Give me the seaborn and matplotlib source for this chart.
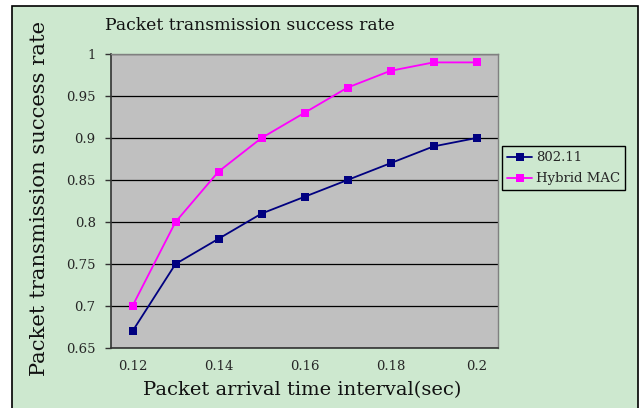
import matplotlib
matplotlib.use("Agg")
import matplotlib.pyplot as plt
import pandas as pd
import seaborn as sns
from matplotlib.patches import Rectangle
from matplotlib.ticker import FixedLocator, NullFormatter

# data
intervals = [0.12, 0.13, 0.14, 0.15, 0.16, 0.17, 0.18, 0.19, 0.20]
rate_80211 = [0.67, 0.75, 0.78, 0.81, 0.83, 0.85, 0.87, 0.89, 0.90]
rate_hybrid = [0.70, 0.80, 0.86, 0.90, 0.93, 0.96, 0.98, 0.99, 0.99]
series_names = ["802.11", "Hybrid MAC"]
x_labels = ["0.12", "0.14", "0.16", "0.18", "0.2"]

df = pd.DataFrame({
    "interval": intervals * 2,
    "rate": rate_80211 + rate_hybrid,
    "series": [series_names[0]] * len(intervals) + [series_names[1]] * len(intervals),
})

bg_green = "#cde8cf"
plot_gray = "#c0c0c0"
palette = {"802.11": "#000080", "Hybrid MAC": "#ff00ff"}
font = ["DejaVu Serif"]

sns.set_style("white")
plt.rcParams["font.family"] = font

fig = plt.figure(figsize=(6.41, 4.08), dpi=100)
fig.patch.set_facecolor("white")
W, H = 641, 408
fig.patches.append(Rectangle((12 / W, -0.02), (638 - 12) / W, (402 - 0) / H + 0.02,
                             transform=fig.transFigure, facecolor=bg_green,
                             edgecolor="black", linewidth=1.2, zorder=-10))

ax = fig.add_axes([111 / W, 60 / H, (498 - 111) / W, (348 - 54) / H])
ax.set_facecolor(plot_gray)

sns.lineplot(data=df, x="interval", y="rate", hue="series", palette=palette,
             marker="s", markersize=5.5, markeredgewidth=0, linewidth=1.3,
             ax=ax, legend=True)

ax.set_xlim(0.115, 0.205)
ax.set_ylim(0.65, 1.0)
ax.set_yticks([0.65, 0.7, 0.75, 0.8, 0.85, 0.9, 0.95, 1.0])
ax.set_yticklabels(["0.65", "0.7", "0.75", "0.8", "0.85", "0.9", "0.95", "1"])
ax.yaxis.grid(True, color="black", linewidth=0.9)
ax.set_axisbelow(True)

ax.xaxis.set_major_locator(FixedLocator([0.12, 0.14, 0.16, 0.18, 0.20]))
ax.set_xticklabels(x_labels)
ax.xaxis.set_minor_locator(FixedLocator([0.125 + 0.01 * i for i in range(8)]))
ax.xaxis.set_minor_formatter(NullFormatter())
ax.tick_params(axis="x", which="major", length=0, pad=9, labelsize=9.5)
ax.tick_params(axis="x", which="minor", direction="in", length=4, width=1, color="#333333")
ax.tick_params(axis="y", which="major", direction="out", length=4, width=1,
               color="#333333", labelsize=9.5, left=True, pad=7)

for side in ["left", "bottom"]:
    ax.spines[side].set_color("#333333")
    ax.spines[side].set_linewidth(1.2)
for side in ["top", "right"]:
    ax.spines[side].set_color("#808080")
    ax.spines[side].set_linewidth(1.0)

ax.set_xlabel("")
ax.set_ylabel("")

fig.text(250 / W, 1 - 25 / H, "Packet transmission success rate", ha="center", va="center",
         fontsize=12.4, color="#111111")
fig.text(302 / W, 1 - 390 / H, "Packet arrival time interval(sec)", ha="center", va="center",
         fontsize=14, color="#111111")
fig.text(40 / W, 1 - 199 / H, "Packet transmission success rate", ha="center", va="center",
         rotation=90, fontsize=15.2, color="#111111")

handles, labels = ax.get_legend_handles_labels()
ax.legend(handles, labels, loc="upper left", bbox_to_anchor=(502 / W, 1 - 146 / H),
          bbox_transform=fig.transFigure, borderaxespad=0, frameon=True, fancybox=False,
          facecolor=bg_green, edgecolor="black", framealpha=1, fontsize=9.5,
          handlelength=1.9, handletextpad=0.25, borderpad=0.4, labelspacing=0.6)

fig.savefig("out.png", dpi=100, facecolor=fig.get_facecolor())
